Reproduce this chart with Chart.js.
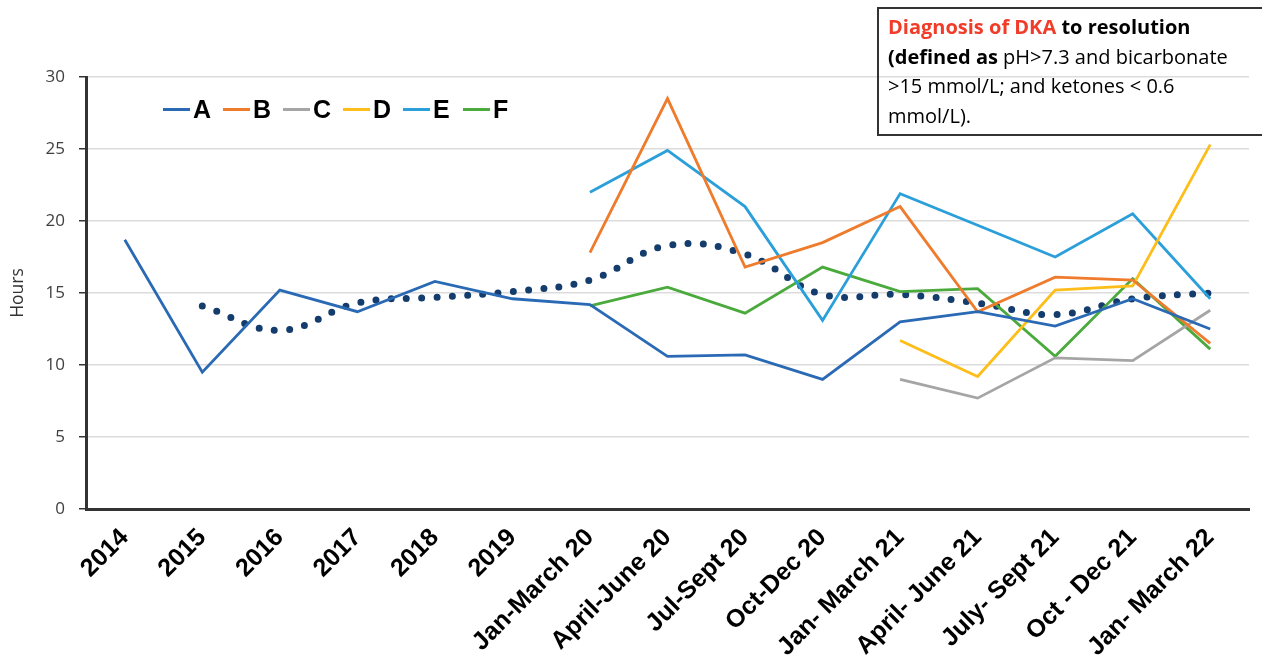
<!DOCTYPE html>
<html>
<head>
<meta charset="utf-8">
<script src="https://cdn.jsdelivr.net/npm/chart.js@4/dist/chart.umd.min.js"></script>
<style>
  html, body { margin: 0; padding: 0; background: #fff; overflow: hidden; }
  #wrap { position: relative; width: 1262px; height: 670px; overflow: hidden; }
  #legend { position: absolute; left: 163px; top: 95px; display: flex; }
  .item { width: 60px; display: flex; align-items: center; font: bold 25px "Liberation Sans", Arial, sans-serif; color: #000; }
  .item span.swatch { display: inline-block; width: 27px; height: 3px; margin-right: 3px; }
  #note { position: absolute; left: 877px; top: 7px; width: 420px; height: 122px; border: 2px solid #333;
          font: 20px "Open Sans", sans-serif; line-height: 29.7px; padding: 3px 0 0 9px; color: #000; }
  #note b { font-weight: bold; }
  #note .red { color: #f03c28; }
</style>
</head>
<body>
<div id="wrap">
  <canvas id="chart" width="1262" height="670"></canvas>
  <div id="legend"></div>
  <div id="note">
    <b class="red">Diagnosis of DKA</b> <b>to resolution</b><br>
    <b>(defined as</b> pH&gt;7.3 and bicarbonate<br>
    &gt;15 mmol/L; and ketones &lt; 0.6<br>
    mmol/L).
  </div>
</div>
<script>
// Categories (x axis)
const periods = ["2014", "2015", "2016", "2017", "2018", "2019", "Jan-March 20", "April-June 20",
    "Jul-Sept 20", "Oct-Dec 20", "Jan- March 21", "April- June 21", "July- Sept 21", "Oct - Dec 21", "Jan- March 22"];

// Hours per site
const siteA = [18.7, 9.5, 15.2, 13.7, 15.8, 14.6, 14.2, 10.6, 10.7, 9.0, 13.0, 13.7, 12.7, 14.6, 12.5];
const siteB = [null, null, null, null, null, null, 17.8, 28.5, 16.8, 18.5, 21.0, 13.7, 16.1, 15.9, 11.5];
const siteC = [null, null, null, null, null, null, null, null, null, null, 9.0, 7.7, 10.5, 10.3, 13.8];
const siteD = [null, null, null, null, null, null, null, null, null, null, 11.7, 9.2, 15.2, 15.5, 25.3];
const siteE = [null, null, null, null, null, null, 22.0, 24.9, 21.0, 13.1, 21.9, 19.7, 17.5, 20.5, 14.6];
const siteF = [null, null, null, null, null, null, 14.1, 15.4, 13.6, 16.8, 15.1, 15.3, 10.6, 16.0, 11.1];

// dotted trend line
const trend = [null, 14.1, 12.4, 14.3, 14.7, 15.1, 15.9, 18.3, 17.7, 14.9, 14.9, 14.3, 13.5, 14.6, 15.0];

const yTicks = [0, 5, 10, 15, 20, 25, 30];

const seriesNames = ["A", "B", "C", "D", "E", "F"];
const seriesColors = ["#2a6ab5", "#ef7b2c", "#a5a5a5", "#fdbd1a", "#2b9fd9", "#4aaa3c"];
const seriesData = [siteA, siteB, siteC, siteD, siteE, siteF];

const datasets = seriesNames.map((name, i) => ({
    label: name,
    data: seriesData[i],
    borderColor: seriesColors[i],
    backgroundColor: seriesColors[i],
    borderWidth: 2.8,
    pointRadius: 0,
    tension: 0,
    spanGaps: false,
}));

datasets.push({
    label: "Trend",
    data: trend,
    borderColor: "#143d6d",
    borderWidth: 7,
    borderDash: [0, 15.3],
    borderCapStyle: "round",
    pointRadius: 0,
    tension: 0.4,
});

// HTML legend
const legend = document.getElementById("legend");
seriesNames.forEach((name, i) => {
    const item = document.createElement("div");
    item.className = "item";
    item.innerHTML = `<span class="swatch" style="background:${seriesColors[i]}"></span>${name}`;
    legend.appendChild(item);
});

const ctx = document.getElementById("chart").getContext("2d");
new Chart(ctx, {
    type: "line",
    data: { labels: periods, datasets: datasets },
    options: {
        responsive: false,
        animation: false,
        devicePixelRatio: 1,
        layout: { padding: { left: 8, top: 77, right: 13, bottom: 0 } },
        plugins: { legend: { display: false }, tooltip: { enabled: false } },
        scales: {
            x: {
                offset: true,
                grid: { display: false },
                border: { display: true, color: "#333", width: 3 },
                ticks: {
                    color: "#000",
                    font: { family: "Liberation Sans", size: 25, weight: "bold" },
                    minRotation: 45,
                    maxRotation: 45,
                    autoSkip: false,
                    padding: 6,
                },
                afterFit: (s) => { s.height = 161; },
            },
            y: {
                min: 0,
                max: 30,
                afterBuildTicks: (s) => { s.ticks = yTicks.map((v) => ({ value: v })); },
                grid: { color: "#dcdcdc", lineWidth: 1.5, tickColor: "#333", tickLength: 7 },
                border: { display: true, color: "#333", width: 3 },
                ticks: {
                    color: "#404040",
                    font: { family: "Open Sans", size: 17 },
                    padding: 14,
                },
                title: {
                    display: true,
                    text: "Hours",
                    color: "#333",
                    font: { family: "Open Sans", size: 17.5 },
                    padding: 0,
                },
                afterFit: (s) => { s.width = 78; },
            },
        },
    },
});
</script>
</body>
</html>
